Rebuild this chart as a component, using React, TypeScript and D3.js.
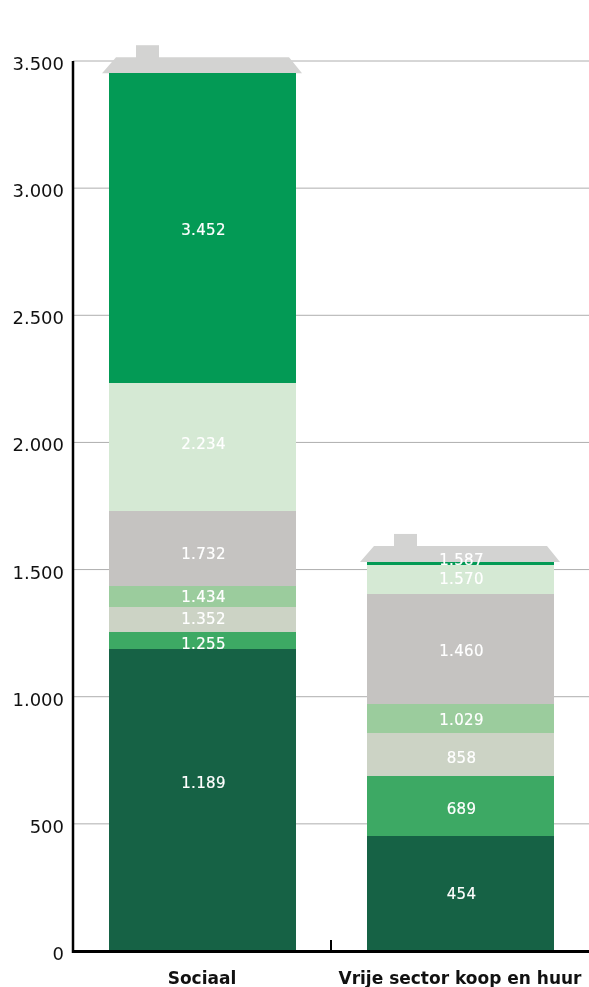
import React from "react";
import * as d3 from "d3";

const categories = ["Sociaal", "Vrije sector koop en huur"];
const colors = ["#166245", "#3da964", "#ccd3c5", "#9bcc9d", "#c5c3c1", "#d5e9d4", "#039a55"];
// cumulative tops as drawn
const sociaalTops = [1189, 1255, 1352, 1434, 1732, 2234, 3452];
const vrijeTops = [454, 689, 858, 971, 1404, 1518, 1530];
// printed labels
const sociaalLabels = ["1.189", "1.255", "1.352", "1.434", "1.732", "2.234", "3.452"];
const vrijeLabels = ["454", "689", "858", "1.029", "1.460", "1.570", "1.587"];
// value height at which each printed label sits
const sociaalLabelAt = [661, 1211, 1309, 1396, 1565, 1994, 2839];
const vrijeLabelAt = [228, 562, 759, 912, 1180, 1463, 1541];
const yTicks = [0, 500, 1000, 1500, 2000, 2500, 3000, 3500];
const tickLabels = ["0", "500", "1.000", "1.500", "2.000", "2.500", "3.000", "3.500"];

const FONT = "'DejaVu Sans', sans-serif";

export default function App() {
  const y = d3.scaleLinear().domain([0, 3500]).range([951, 61]);
  const x = d3.scaleBand().domain(categories).range([73, 590]).paddingInner(71 / 258).paddingOuter(36 / 258);
  const series = [
    { cat: categories[0], tops: sociaalTops, labels: sociaalLabels, at: sociaalLabelAt },
    { cat: categories[1], tops: vrijeTops, labels: vrijeLabels, at: vrijeLabelAt },
  ];
  return (
    <svg width={589} height={987} style={{ position: "fixed", left: 0, top: 0, display: "block" }} fontFamily={FONT}>
      {yTicks.slice(1).map((t) => (
        <line key={t} x1={73} x2={589} y1={y(t)} y2={y(t)} stroke="#aeaeae" strokeWidth={1} />
      ))}
      {series.map((s) => {
        const bx = x(s.cat)!;
        const bw = x.bandwidth();
        const top = y(s.tops[s.tops.length - 1]);
        const roofTop = top - 16;
        const roof = d3.path();
        roof.moveTo(bx - 7, top);
        roof.lineTo(bx + 7, roofTop);
        roof.lineTo(bx + bw - 7, roofTop);
        roof.lineTo(bx + bw + 6, top);
        roof.closePath();
        return (
          <g key={s.cat}>
            <rect x={bx + 27} y={top - 28} width={23} height={13} fill="#d3d3d2" />
            <path d={roof.toString()} fill="#d3d3d2" />
            {s.tops.map((v, i) => {
              const base = i === 0 ? 0 : s.tops[i - 1];
              return <rect key={i} x={bx} y={y(v)} width={bw} height={y(base) - y(v)} fill={colors[i]} shapeRendering="crispEdges" />;
            })}
            {s.labels.map((l, i) => (
              <text key={i} x={bx + bw / 2 + 1} y={y(s.at[i]) + 5.5} textAnchor="middle" fontSize={15} letterSpacing={0.35} fill="#fff" stroke="#fff" strokeWidth={0.2}>
                {l}
              </text>
            ))}
          </g>
        );
      })}
      <line x1={73} x2={73} y1={61} y2={953} stroke="#000" strokeWidth={2.5} />
      <line x1={72} x2={589} y1={951.5} y2={951.5} stroke="#000" strokeWidth={3} />
      <line x1={331} x2={331} y1={940} y2={951} stroke="#000" strokeWidth={2} />
      {yTicks.map((t, i) => (
        <text key={t} x={64} y={y(t) + 9} textAnchor="end" fontSize={18} fill="#111">
          {tickLabels[i]}
        </text>
      ))}
      <text x={202} y={984} textAnchor="middle" fontSize={17} fontWeight="bold" fill="#111">{categories[0]}</text>
      <text x={460} y={984} textAnchor="middle" fontSize={17} fontWeight="bold" fill="#111">{categories[1]}</text>
    </svg>
  );
}
